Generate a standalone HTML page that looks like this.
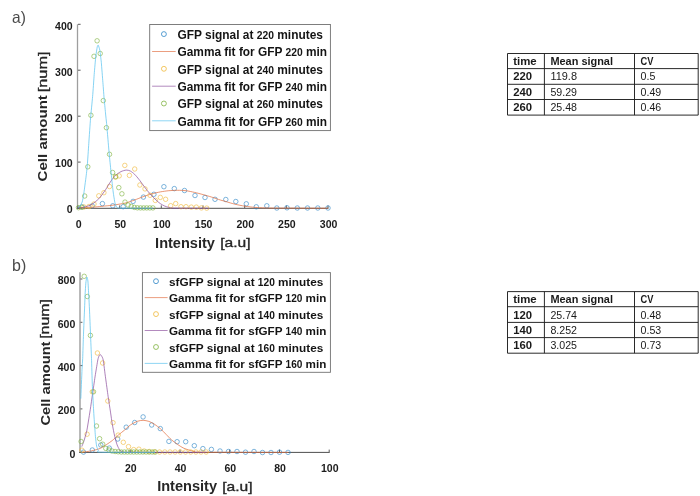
<!DOCTYPE html>
<html lang="en"><head><meta charset="utf-8"><title>Figure</title>
<style>html,body{margin:0;padding:0;background:#fff}svg{display:block}</style></head>
<body>
<svg width="700" height="496" viewBox="0 0 700 496" font-family="'Liberation Sans', Arial, sans-serif" fill="#262626">
<rect width="700" height="496" fill="#fff"/>
<text x="12" y="23.2" font-size="16.5" fill="#4a4a4a" textLength="13.8" lengthAdjust="spacingAndGlyphs">a)</text>
<text x="12.1" y="270.9" font-size="16.5" fill="#4a4a4a" textLength="14.2" lengthAdjust="spacingAndGlyphs">b)</text>
<path d="M77.5,24.3 V208.6" fill="none" stroke="#9e9e9e" stroke-width="1.3"/>
<path d="M77,208.3 H328.5" fill="none" stroke="#3a3a3a" stroke-width="0.9"/>
<path d="M78.0,208.0 h2.6" stroke="#4a4a4a" stroke-width="0.9"/>
<text x="66.8" y="213.3" font-size="11.4" font-weight="bold" fill="#1c1c1c" textLength="5.9" lengthAdjust="spacingAndGlyphs">0</text>
<path d="M78.0,162.1 h2.6" stroke="#4a4a4a" stroke-width="0.9"/>
<text x="55.1" y="167.4" font-size="11.4" font-weight="bold" fill="#1c1c1c" textLength="17.6" lengthAdjust="spacingAndGlyphs">100</text>
<path d="M78.0,116.2 h2.6" stroke="#4a4a4a" stroke-width="0.9"/>
<text x="55.1" y="121.5" font-size="11.4" font-weight="bold" fill="#1c1c1c" textLength="17.6" lengthAdjust="spacingAndGlyphs">200</text>
<path d="M78.0,70.2 h2.6" stroke="#4a4a4a" stroke-width="0.9"/>
<text x="55.1" y="75.5" font-size="11.4" font-weight="bold" fill="#1c1c1c" textLength="17.6" lengthAdjust="spacingAndGlyphs">300</text>
<path d="M78.0,24.3 h2.6" stroke="#4a4a4a" stroke-width="0.9"/>
<text x="55.1" y="29.6" font-size="11.4" font-weight="bold" fill="#1c1c1c" textLength="17.6" lengthAdjust="spacingAndGlyphs">400</text>
<path d="M78.0,208.0 v-2.6" stroke="#4a4a4a" stroke-width="0.9"/>
<text x="75.7" y="228.0" font-size="11.4" font-weight="bold" fill="#1c1c1c" textLength="5.9" lengthAdjust="spacingAndGlyphs">0</text>
<path d="M119.7,208.0 v-2.6" stroke="#4a4a4a" stroke-width="0.9"/>
<text x="114.4" y="228.0" font-size="11.4" font-weight="bold" fill="#1c1c1c" textLength="11.7" lengthAdjust="spacingAndGlyphs">50</text>
<path d="M161.3,208.0 v-2.6" stroke="#4a4a4a" stroke-width="0.9"/>
<text x="153.1" y="228.0" font-size="11.4" font-weight="bold" fill="#1c1c1c" textLength="17.6" lengthAdjust="spacingAndGlyphs">100</text>
<path d="M203.0,208.0 v-2.6" stroke="#4a4a4a" stroke-width="0.9"/>
<text x="194.8" y="228.0" font-size="11.4" font-weight="bold" fill="#1c1c1c" textLength="17.6" lengthAdjust="spacingAndGlyphs">150</text>
<path d="M244.7,208.0 v-2.6" stroke="#4a4a4a" stroke-width="0.9"/>
<text x="236.5" y="228.0" font-size="11.4" font-weight="bold" fill="#1c1c1c" textLength="17.6" lengthAdjust="spacingAndGlyphs">200</text>
<path d="M286.3,208.0 v-2.6" stroke="#4a4a4a" stroke-width="0.9"/>
<text x="278.1" y="228.0" font-size="11.4" font-weight="bold" fill="#1c1c1c" textLength="17.6" lengthAdjust="spacingAndGlyphs">250</text>
<path d="M328.0,208.0 v-2.6" stroke="#4a4a4a" stroke-width="0.9"/>
<text x="319.8" y="228.0" font-size="11.4" font-weight="bold" fill="#1c1c1c" textLength="17.6" lengthAdjust="spacingAndGlyphs">300</text>
<circle cx="82.2" cy="206.9" r="2.25" fill="none" stroke="#2f86c6" stroke-width="0.62"/><circle cx="92.2" cy="205.8" r="2.25" fill="none" stroke="#2f86c6" stroke-width="0.62"/><circle cx="102.4" cy="203.6" r="2.25" fill="none" stroke="#2f86c6" stroke-width="0.62"/><circle cx="112.8" cy="205.8" r="2.25" fill="none" stroke="#2f86c6" stroke-width="0.62"/><circle cx="123.2" cy="206.7" r="2.25" fill="none" stroke="#2f86c6" stroke-width="0.62"/><circle cx="133.1" cy="201.4" r="2.25" fill="none" stroke="#2f86c6" stroke-width="0.62"/><circle cx="143.4" cy="197.1" r="2.25" fill="none" stroke="#2f86c6" stroke-width="0.62"/><circle cx="153.9" cy="194.3" r="2.25" fill="none" stroke="#2f86c6" stroke-width="0.62"/><circle cx="163.9" cy="186.7" r="2.25" fill="none" stroke="#2f86c6" stroke-width="0.62"/><circle cx="174.3" cy="188.6" r="2.25" fill="none" stroke="#2f86c6" stroke-width="0.62"/><circle cx="184.5" cy="190.5" r="2.25" fill="none" stroke="#2f86c6" stroke-width="0.62"/><circle cx="195.0" cy="195.5" r="2.25" fill="none" stroke="#2f86c6" stroke-width="0.62"/><circle cx="205.0" cy="197.5" r="2.25" fill="none" stroke="#2f86c6" stroke-width="0.62"/><circle cx="215.0" cy="199.3" r="2.25" fill="none" stroke="#2f86c6" stroke-width="0.62"/><circle cx="225.8" cy="199.5" r="2.25" fill="none" stroke="#2f86c6" stroke-width="0.62"/><circle cx="235.8" cy="201.5" r="2.25" fill="none" stroke="#2f86c6" stroke-width="0.62"/><circle cx="246.3" cy="203.8" r="2.25" fill="none" stroke="#2f86c6" stroke-width="0.62"/><circle cx="256.3" cy="206.8" r="2.25" fill="none" stroke="#2f86c6" stroke-width="0.62"/><circle cx="266.8" cy="205.8" r="2.25" fill="none" stroke="#2f86c6" stroke-width="0.62"/><circle cx="276.8" cy="208.0" r="2.25" fill="none" stroke="#2f86c6" stroke-width="0.62"/><circle cx="287.0" cy="207.8" r="2.25" fill="none" stroke="#2f86c6" stroke-width="0.62"/><circle cx="297.3" cy="208.0" r="2.25" fill="none" stroke="#2f86c6" stroke-width="0.62"/><circle cx="307.5" cy="208.0" r="2.25" fill="none" stroke="#2f86c6" stroke-width="0.62"/><circle cx="317.8" cy="208.0" r="2.25" fill="none" stroke="#2f86c6" stroke-width="0.62"/><circle cx="328.0" cy="208.0" r="2.25" fill="none" stroke="#2f86c6" stroke-width="0.62"/>
<path d="M78.5,208.0 C80.3,207.9 88.9,207.4 92.0,207.2 C95.1,207.0 99.3,206.6 102.0,206.3 C104.7,206.0 109.8,205.6 112.1,205.3 C114.4,205.0 117.1,204.5 119.0,204.2 C120.9,203.9 123.9,203.5 126.0,202.9 C128.1,202.3 132.3,200.8 134.6,200.0 C136.9,199.2 140.8,197.5 143.1,196.7 C145.4,195.9 149.4,194.5 151.7,193.9 C154.0,193.3 158.0,192.3 160.3,191.9 C162.6,191.5 166.6,190.9 168.9,190.7 C171.2,190.5 175.1,190.3 177.4,190.3 C179.7,190.3 183.7,190.4 186.0,190.7 C188.3,191.0 192.3,191.9 194.6,192.4 C196.9,192.9 200.8,194.0 203.1,194.6 C205.4,195.2 209.4,196.4 211.7,197.1 C214.0,197.8 218.4,199.4 220.3,200.0 C222.2,200.6 224.0,201.0 226.0,201.6 C228.0,202.2 232.5,203.6 235.0,204.2 C237.5,204.8 242.3,205.8 245.0,206.2 C247.7,206.6 252.3,207.2 255.0,207.4 C257.7,207.6 261.7,207.8 265.0,207.9 C268.3,208.0 271.6,208.1 280.0,208.1 C288.4,208.1 321.6,208.2 328.0,208.2" fill="none" stroke="#e0693a" stroke-width="0.7" stroke-linejoin="round"/>
<circle cx="84.0" cy="207.0" r="2.25" fill="none" stroke="#f0b93a" stroke-width="0.62"/><circle cx="89.0" cy="206.5" r="2.25" fill="none" stroke="#f0b93a" stroke-width="0.62"/><circle cx="94.0" cy="204.0" r="2.25" fill="none" stroke="#f0b93a" stroke-width="0.62"/><circle cx="98.8" cy="195.8" r="2.25" fill="none" stroke="#f0b93a" stroke-width="0.62"/><circle cx="103.9" cy="192.7" r="2.25" fill="none" stroke="#f0b93a" stroke-width="0.62"/><circle cx="109.5" cy="186.5" r="2.25" fill="none" stroke="#f0b93a" stroke-width="0.62"/><circle cx="115.5" cy="177.2" r="2.25" fill="none" stroke="#f0b93a" stroke-width="0.62"/><circle cx="119.2" cy="175.9" r="2.25" fill="none" stroke="#f0b93a" stroke-width="0.62"/><circle cx="124.8" cy="165.4" r="2.25" fill="none" stroke="#f0b93a" stroke-width="0.62"/><circle cx="129.4" cy="175.4" r="2.25" fill="none" stroke="#f0b93a" stroke-width="0.62"/><circle cx="134.7" cy="169.0" r="2.25" fill="none" stroke="#f0b93a" stroke-width="0.62"/><circle cx="139.9" cy="185.0" r="2.25" fill="none" stroke="#f0b93a" stroke-width="0.62"/><circle cx="145.0" cy="188.9" r="2.25" fill="none" stroke="#f0b93a" stroke-width="0.62"/><circle cx="150.0" cy="195.3" r="2.25" fill="none" stroke="#f0b93a" stroke-width="0.62"/><circle cx="155.3" cy="200.4" r="2.25" fill="none" stroke="#f0b93a" stroke-width="0.62"/><circle cx="160.3" cy="197.4" r="2.25" fill="none" stroke="#f0b93a" stroke-width="0.62"/><circle cx="165.6" cy="199.3" r="2.25" fill="none" stroke="#f0b93a" stroke-width="0.62"/><circle cx="170.7" cy="205.7" r="2.25" fill="none" stroke="#f0b93a" stroke-width="0.62"/><circle cx="175.7" cy="203.6" r="2.25" fill="none" stroke="#f0b93a" stroke-width="0.62"/><circle cx="181.0" cy="206.7" r="2.25" fill="none" stroke="#f0b93a" stroke-width="0.62"/><circle cx="186.0" cy="206.7" r="2.25" fill="none" stroke="#f0b93a" stroke-width="0.62"/><circle cx="191.3" cy="207.1" r="2.25" fill="none" stroke="#f0b93a" stroke-width="0.62"/><circle cx="196.3" cy="207.1" r="2.25" fill="none" stroke="#f0b93a" stroke-width="0.62"/><circle cx="201.4" cy="207.9" r="2.25" fill="none" stroke="#f0b93a" stroke-width="0.62"/><circle cx="206.7" cy="208.1" r="2.25" fill="none" stroke="#f0b93a" stroke-width="0.62"/>
<path d="M78.0,208.0 C78.7,207.9 82.0,207.7 83.3,207.4 C84.6,207.1 86.8,206.4 88.0,206.0 C89.2,205.6 90.8,205.2 92.2,204.2 C93.6,203.2 97.0,200.6 98.8,198.7 C100.6,196.8 103.9,192.2 105.5,189.8 C107.1,187.4 109.7,182.9 111.0,181.0 C112.3,179.1 114.2,176.7 115.5,175.4 C116.8,174.1 119.6,172.3 121.0,171.6 C122.4,170.9 125.0,170.2 126.2,170.1 C127.4,170.0 129.2,170.4 130.3,171.0 C131.4,171.6 133.5,173.2 134.6,174.3 C135.7,175.4 137.8,177.9 138.9,179.3 C140.0,180.7 142.0,183.5 143.1,185.0 C144.2,186.5 146.3,189.3 147.4,190.7 C148.5,192.1 150.6,194.5 151.7,195.7 C152.8,196.9 154.9,198.9 156.0,200.0 C157.1,201.1 159.2,202.8 160.3,203.6 C161.4,204.4 163.5,205.5 164.6,206.0 C165.7,206.5 167.6,207.1 168.9,207.4 C170.2,207.7 169.3,208.0 174.6,208.1 C179.9,208.2 204.3,208.2 208.9,208.2" fill="none" stroke="#8a4a9b" stroke-width="0.7" stroke-linejoin="round"/>
<circle cx="78.5" cy="207.7" r="2.25" fill="none" stroke="#7fb23f" stroke-width="0.62"/><circle cx="81.6" cy="207.2" r="2.25" fill="none" stroke="#7fb23f" stroke-width="0.62"/><circle cx="84.7" cy="196.0" r="2.25" fill="none" stroke="#7fb23f" stroke-width="0.62"/><circle cx="87.8" cy="166.8" r="2.25" fill="none" stroke="#7fb23f" stroke-width="0.62"/><circle cx="90.9" cy="115.3" r="2.25" fill="none" stroke="#7fb23f" stroke-width="0.62"/><circle cx="94.0" cy="56.3" r="2.25" fill="none" stroke="#7fb23f" stroke-width="0.62"/><circle cx="97.1" cy="40.8" r="2.25" fill="none" stroke="#7fb23f" stroke-width="0.62"/><circle cx="100.2" cy="53.5" r="2.25" fill="none" stroke="#7fb23f" stroke-width="0.62"/><circle cx="103.3" cy="100.6" r="2.25" fill="none" stroke="#7fb23f" stroke-width="0.62"/><circle cx="106.4" cy="127.7" r="2.25" fill="none" stroke="#7fb23f" stroke-width="0.62"/><circle cx="109.5" cy="154.3" r="2.25" fill="none" stroke="#7fb23f" stroke-width="0.62"/><circle cx="112.6" cy="172.5" r="2.25" fill="none" stroke="#7fb23f" stroke-width="0.62"/><circle cx="115.7" cy="176.5" r="2.25" fill="none" stroke="#7fb23f" stroke-width="0.62"/><circle cx="118.8" cy="187.6" r="2.25" fill="none" stroke="#7fb23f" stroke-width="0.62"/><circle cx="121.9" cy="193.8" r="2.25" fill="none" stroke="#7fb23f" stroke-width="0.62"/><circle cx="125.0" cy="202.1" r="2.25" fill="none" stroke="#7fb23f" stroke-width="0.62"/><circle cx="128.1" cy="205.0" r="2.25" fill="none" stroke="#7fb23f" stroke-width="0.62"/><circle cx="131.2" cy="206.4" r="2.25" fill="none" stroke="#7fb23f" stroke-width="0.62"/><circle cx="134.3" cy="207.4" r="2.25" fill="none" stroke="#7fb23f" stroke-width="0.62"/><circle cx="137.4" cy="207.8" r="2.25" fill="none" stroke="#7fb23f" stroke-width="0.62"/><circle cx="140.5" cy="207.9" r="2.25" fill="none" stroke="#7fb23f" stroke-width="0.62"/><circle cx="143.6" cy="207.9" r="2.25" fill="none" stroke="#7fb23f" stroke-width="0.62"/><circle cx="146.7" cy="207.9" r="2.25" fill="none" stroke="#7fb23f" stroke-width="0.62"/><circle cx="149.8" cy="207.9" r="2.25" fill="none" stroke="#7fb23f" stroke-width="0.62"/><circle cx="152.9" cy="207.9" r="2.25" fill="none" stroke="#7fb23f" stroke-width="0.62"/>
<path d="M77.8,208.0 C78.0,207.9 79.1,207.2 79.5,206.6 C79.9,206.0 81.8,203.2 82.2,202.0 C82.6,200.8 83.4,196.4 83.7,194.3 C84.0,192.2 85.1,183.9 85.5,181.0 C85.9,178.1 87.0,169.2 87.3,165.4 C87.6,161.6 88.5,148.0 88.8,143.3 C89.1,138.6 90.2,122.7 90.6,118.0 C91.0,113.3 92.2,101.0 92.6,96.6 C93.0,92.2 93.9,78.4 94.2,74.4 C94.5,70.4 95.5,59.0 95.8,56.3 C96.1,53.6 97.0,48.3 97.2,47.2 C97.4,46.1 97.9,44.9 98.2,45.2 C98.5,45.5 99.5,48.5 99.8,50.2 C100.1,51.9 101.0,59.1 101.3,62.3 C101.6,65.5 102.6,78.7 102.9,82.5 C103.2,86.3 104.0,97.4 104.3,100.6 C104.6,103.8 105.4,111.7 105.6,114.0 C105.8,116.3 106.3,120.6 106.6,123.3 C106.8,126.0 107.8,137.2 108.1,141.0 C108.4,144.8 109.5,157.2 109.9,161.0 C110.3,164.8 111.4,175.6 111.7,178.7 C112.0,181.8 112.9,189.6 113.2,192.0 C113.5,194.4 114.6,201.5 115.0,203.0 C115.4,204.5 116.5,206.9 117.0,207.4 C117.5,207.9 116.4,208.0 120.0,208.1 C123.6,208.2 149.7,208.2 153.0,208.2" fill="none" stroke="#52c0ee" stroke-width="0.7" stroke-linejoin="round"/>
<text x="155.1" y="247.5" font-size="14" font-weight="bold" textLength="59.8" lengthAdjust="spacingAndGlyphs">Intensity</text>
<text x="220.2" y="247.3" font-size="12.8" font-weight="normal" stroke="#262626" stroke-width="0.35" textLength="30.3" lengthAdjust="spacingAndGlyphs">[a.u]</text>
<text transform="translate(47.0,181.5) rotate(-90)" font-size="13.6" font-weight="bold" textLength="86.4" lengthAdjust="spacingAndGlyphs">Cell amount</text>
<text transform="translate(46.8,92.3) rotate(-90)" font-size="12.8" font-weight="normal" stroke="#262626" stroke-width="0.35" textLength="40.9" lengthAdjust="spacingAndGlyphs">[num]</text>
<rect x="149.7" y="24.5" width="180.7" height="106.1" fill="#fff" stroke="#707070" stroke-width="0.9"/>
<circle cx="163.9" cy="34.1" r="2.45" fill="none" stroke="#2f86c6" stroke-width="0.8"/>
<text x="177.5" y="38.8" font-weight="bold" fill="#141414" font-size="12" textLength="145.4" lengthAdjust="spacingAndGlyphs">GFP signal at <tspan font-size="10.4">220</tspan> minutes</text>
<path d="M152.1,51.5 H175.7" stroke="#e0693a" stroke-width="0.65"/>
<text x="177.5" y="56.1" font-weight="bold" fill="#141414" font-size="12" textLength="149.6" lengthAdjust="spacingAndGlyphs">Gamma fit for GFP <tspan font-size="10.4">220</tspan> min</text>
<circle cx="163.9" cy="68.8" r="2.45" fill="none" stroke="#f0b93a" stroke-width="0.8"/>
<text x="177.5" y="73.5" font-weight="bold" fill="#141414" font-size="12" textLength="145.4" lengthAdjust="spacingAndGlyphs">GFP signal at <tspan font-size="10.4">240</tspan> minutes</text>
<path d="M152.1,86.2 H175.7" stroke="#8a4a9b" stroke-width="0.65"/>
<text x="177.5" y="90.8" font-weight="bold" fill="#141414" font-size="12" textLength="149.6" lengthAdjust="spacingAndGlyphs">Gamma fit for GFP <tspan font-size="10.4">240</tspan> min</text>
<circle cx="163.9" cy="103.5" r="2.45" fill="none" stroke="#7fb23f" stroke-width="0.8"/>
<text x="177.5" y="108.2" font-weight="bold" fill="#141414" font-size="12" textLength="145.4" lengthAdjust="spacingAndGlyphs">GFP signal at <tspan font-size="10.4">260</tspan> minutes</text>
<path d="M152.1,120.8 H175.7" stroke="#52c0ee" stroke-width="0.65"/>
<text x="177.5" y="125.5" font-weight="bold" fill="#141414" font-size="12" textLength="149.6" lengthAdjust="spacingAndGlyphs">Gamma fit for GFP <tspan font-size="10.4">260</tspan> min</text>
<path d="M80,272.2 V452.8" fill="none" stroke="#b2b2b2" stroke-width="1.8"/>
<path d="M79.2,452.4 H329.7" fill="none" stroke="#3a3a3a" stroke-width="0.9"/>
<path d="M80.5,452.2 h1.9" stroke="#4a4a4a" stroke-width="0.9"/>
<text x="69.4" y="457.5" font-size="11.4" font-weight="bold" fill="#1c1c1c" textLength="5.9" lengthAdjust="spacingAndGlyphs">0</text>
<path d="M80.5,408.9 h1.9" stroke="#4a4a4a" stroke-width="0.9"/>
<text x="57.7" y="414.2" font-size="11.4" font-weight="bold" fill="#1c1c1c" textLength="17.6" lengthAdjust="spacingAndGlyphs">200</text>
<path d="M80.5,365.6 h1.9" stroke="#4a4a4a" stroke-width="0.9"/>
<text x="57.7" y="370.9" font-size="11.4" font-weight="bold" fill="#1c1c1c" textLength="17.6" lengthAdjust="spacingAndGlyphs">400</text>
<path d="M80.5,322.3 h1.9" stroke="#4a4a4a" stroke-width="0.9"/>
<text x="57.7" y="327.6" font-size="11.4" font-weight="bold" fill="#1c1c1c" textLength="17.6" lengthAdjust="spacingAndGlyphs">600</text>
<path d="M80.5,279.0 h1.9" stroke="#4a4a4a" stroke-width="0.9"/>
<text x="57.7" y="284.3" font-size="11.4" font-weight="bold" fill="#1c1c1c" textLength="17.6" lengthAdjust="spacingAndGlyphs">800</text>
<path d="M130.2,452.2 v-2.6" stroke="#4a4a4a" stroke-width="0.9"/>
<text x="125.0" y="472.2" font-size="11.4" font-weight="bold" fill="#1c1c1c" textLength="11.7" lengthAdjust="spacingAndGlyphs">20</text>
<path d="M180.0,452.2 v-2.6" stroke="#4a4a4a" stroke-width="0.9"/>
<text x="174.7" y="472.2" font-size="11.4" font-weight="bold" fill="#1c1c1c" textLength="11.7" lengthAdjust="spacingAndGlyphs">40</text>
<path d="M229.7,452.2 v-2.6" stroke="#4a4a4a" stroke-width="0.9"/>
<text x="224.4" y="472.2" font-size="11.4" font-weight="bold" fill="#1c1c1c" textLength="11.7" lengthAdjust="spacingAndGlyphs">60</text>
<path d="M279.5,452.2 v-2.6" stroke="#4a4a4a" stroke-width="0.9"/>
<text x="274.2" y="472.2" font-size="11.4" font-weight="bold" fill="#1c1c1c" textLength="11.7" lengthAdjust="spacingAndGlyphs">80</text>
<path d="M329.2,452.2 v-2.6" stroke="#4a4a4a" stroke-width="0.9"/>
<text x="321.0" y="472.2" font-size="11.4" font-weight="bold" fill="#1c1c1c" textLength="17.6" lengthAdjust="spacingAndGlyphs">100</text>
<circle cx="83.5" cy="452.1" r="2.25" fill="none" stroke="#2f86c6" stroke-width="0.62"/><circle cx="92.3" cy="450.0" r="2.25" fill="none" stroke="#2f86c6" stroke-width="0.62"/><circle cx="100.8" cy="445.0" r="2.25" fill="none" stroke="#2f86c6" stroke-width="0.62"/><circle cx="109.3" cy="448.1" r="2.25" fill="none" stroke="#2f86c6" stroke-width="0.62"/><circle cx="117.7" cy="439.0" r="2.25" fill="none" stroke="#2f86c6" stroke-width="0.62"/><circle cx="126.2" cy="427.2" r="2.25" fill="none" stroke="#2f86c6" stroke-width="0.62"/><circle cx="134.7" cy="422.5" r="2.25" fill="none" stroke="#2f86c6" stroke-width="0.62"/><circle cx="143.1" cy="416.9" r="2.25" fill="none" stroke="#2f86c6" stroke-width="0.62"/><circle cx="151.7" cy="425.0" r="2.25" fill="none" stroke="#2f86c6" stroke-width="0.62"/><circle cx="160.3" cy="428.6" r="2.25" fill="none" stroke="#2f86c6" stroke-width="0.62"/><circle cx="168.9" cy="441.4" r="2.25" fill="none" stroke="#2f86c6" stroke-width="0.62"/><circle cx="177.1" cy="441.7" r="2.25" fill="none" stroke="#2f86c6" stroke-width="0.62"/><circle cx="185.7" cy="441.7" r="2.25" fill="none" stroke="#2f86c6" stroke-width="0.62"/><circle cx="194.3" cy="445.7" r="2.25" fill="none" stroke="#2f86c6" stroke-width="0.62"/><circle cx="202.9" cy="448.6" r="2.25" fill="none" stroke="#2f86c6" stroke-width="0.62"/><circle cx="211.4" cy="449.4" r="2.25" fill="none" stroke="#2f86c6" stroke-width="0.62"/><circle cx="220.0" cy="451.0" r="2.25" fill="none" stroke="#2f86c6" stroke-width="0.62"/><circle cx="228.5" cy="451.5" r="2.25" fill="none" stroke="#2f86c6" stroke-width="0.62"/><circle cx="237.0" cy="451.5" r="2.25" fill="none" stroke="#2f86c6" stroke-width="0.62"/><circle cx="245.5" cy="452.2" r="2.25" fill="none" stroke="#2f86c6" stroke-width="0.62"/><circle cx="254.0" cy="451.5" r="2.25" fill="none" stroke="#2f86c6" stroke-width="0.62"/><circle cx="262.5" cy="452.5" r="2.25" fill="none" stroke="#2f86c6" stroke-width="0.62"/><circle cx="271.0" cy="452.5" r="2.25" fill="none" stroke="#2f86c6" stroke-width="0.62"/><circle cx="279.5" cy="452.2" r="2.25" fill="none" stroke="#2f86c6" stroke-width="0.62"/><circle cx="288.0" cy="452.4" r="2.25" fill="none" stroke="#2f86c6" stroke-width="0.62"/>
<path d="M82.0,452.3 C83.3,452.1 89.3,451.3 91.7,450.8 C94.1,450.3 98.3,449.2 100.2,448.4 C102.1,447.6 104.6,445.9 106.2,444.8 C107.8,443.7 110.7,441.8 112.3,440.5 C113.9,439.2 116.7,436.5 118.3,435.1 C119.9,433.7 122.8,431.5 124.4,430.2 C126.0,428.9 128.7,426.2 130.4,425.0 C132.1,423.8 135.7,421.9 137.4,421.3 C139.1,420.7 141.6,420.3 143.1,420.3 C144.6,420.3 147.4,420.9 148.9,421.4 C150.4,421.9 153.1,423.3 154.6,424.3 C156.1,425.3 158.8,427.3 160.3,428.6 C161.8,429.9 164.5,432.8 166.0,434.3 C167.5,435.8 170.2,438.7 171.7,440.0 C173.2,441.3 175.9,443.2 177.4,444.3 C178.9,445.4 181.6,447.1 183.1,447.9 C184.6,448.7 187.4,449.5 188.9,450.0 C190.4,450.5 193.1,451.1 194.6,451.4 C196.1,451.7 187.8,452.1 200.3,452.2 C212.8,452.3 276.3,452.4 288.0,452.4" fill="none" stroke="#e0693a" stroke-width="0.7" stroke-linejoin="round"/>
<circle cx="81.9" cy="450.2" r="2.25" fill="none" stroke="#f0b93a" stroke-width="0.62"/><circle cx="87.1" cy="434.2" r="2.25" fill="none" stroke="#f0b93a" stroke-width="0.62"/><circle cx="92.3" cy="391.8" r="2.25" fill="none" stroke="#f0b93a" stroke-width="0.62"/><circle cx="97.4" cy="353.0" r="2.25" fill="none" stroke="#f0b93a" stroke-width="0.62"/><circle cx="102.6" cy="363.0" r="2.25" fill="none" stroke="#f0b93a" stroke-width="0.62"/><circle cx="107.8" cy="401.0" r="2.25" fill="none" stroke="#f0b93a" stroke-width="0.62"/><circle cx="113.0" cy="422.7" r="2.25" fill="none" stroke="#f0b93a" stroke-width="0.62"/><circle cx="118.2" cy="435.1" r="2.25" fill="none" stroke="#f0b93a" stroke-width="0.62"/><circle cx="123.3" cy="442.3" r="2.25" fill="none" stroke="#f0b93a" stroke-width="0.62"/><circle cx="128.5" cy="446.6" r="2.25" fill="none" stroke="#f0b93a" stroke-width="0.62"/><circle cx="133.7" cy="449.6" r="2.25" fill="none" stroke="#f0b93a" stroke-width="0.62"/><circle cx="138.9" cy="449.2" r="2.25" fill="none" stroke="#f0b93a" stroke-width="0.62"/><circle cx="144.1" cy="451.0" r="2.25" fill="none" stroke="#f0b93a" stroke-width="0.62"/><circle cx="149.2" cy="451.5" r="2.25" fill="none" stroke="#f0b93a" stroke-width="0.62"/><circle cx="154.4" cy="451.8" r="2.25" fill="none" stroke="#f0b93a" stroke-width="0.62"/><circle cx="159.6" cy="452.0" r="2.25" fill="none" stroke="#f0b93a" stroke-width="0.62"/><circle cx="164.8" cy="452.0" r="2.25" fill="none" stroke="#f0b93a" stroke-width="0.62"/><circle cx="170.0" cy="452.0" r="2.25" fill="none" stroke="#f0b93a" stroke-width="0.62"/><circle cx="175.1" cy="452.0" r="2.25" fill="none" stroke="#f0b93a" stroke-width="0.62"/><circle cx="180.3" cy="452.0" r="2.25" fill="none" stroke="#f0b93a" stroke-width="0.62"/><circle cx="185.5" cy="452.0" r="2.25" fill="none" stroke="#f0b93a" stroke-width="0.62"/><circle cx="190.7" cy="452.0" r="2.25" fill="none" stroke="#f0b93a" stroke-width="0.62"/><circle cx="195.9" cy="452.0" r="2.25" fill="none" stroke="#f0b93a" stroke-width="0.62"/><circle cx="201.0" cy="452.0" r="2.25" fill="none" stroke="#f0b93a" stroke-width="0.62"/><circle cx="206.2" cy="452.0" r="2.25" fill="none" stroke="#f0b93a" stroke-width="0.62"/>
<path d="M81.8,446.6 C82.0,446.0 83.3,443.0 83.9,441.1 C84.5,439.2 86.3,433.2 86.9,430.2 C87.5,427.2 88.8,418.8 89.3,415.7 C89.8,412.6 90.7,406.8 91.1,404.0 C91.5,401.2 92.4,394.9 92.9,391.5 C93.4,388.1 94.8,378.2 95.4,374.5 C96.0,370.8 97.4,362.2 97.8,360.0 C98.2,357.8 98.9,356.2 99.2,355.6 C99.5,355.0 99.9,354.5 100.2,354.5 C100.5,354.5 101.1,355.2 101.4,355.8 C101.8,356.4 102.7,357.4 103.2,360.0 C103.7,362.6 105.0,373.9 105.6,378.1 C106.2,382.3 107.5,392.3 108.1,396.3 C108.7,400.3 110.0,408.8 110.5,412.1 C111.0,415.4 111.8,421.4 112.3,424.2 C112.8,427.0 114.1,433.9 114.7,436.3 C115.3,438.7 116.5,443.2 117.1,444.8 C117.7,446.4 118.9,448.8 119.5,449.6 C120.1,450.4 121.7,451.6 122.6,451.9 C123.5,452.2 117.3,452.2 127.0,452.3 C136.7,452.4 196.8,452.4 206.0,452.4" fill="none" stroke="#8a4a9b" stroke-width="0.7" stroke-linejoin="round"/>
<circle cx="81.1" cy="441.5" r="2.25" fill="none" stroke="#7fb23f" stroke-width="0.62"/><circle cx="84.2" cy="276.3" r="2.25" fill="none" stroke="#7fb23f" stroke-width="0.62"/><circle cx="87.3" cy="296.5" r="2.25" fill="none" stroke="#7fb23f" stroke-width="0.62"/><circle cx="90.4" cy="335.4" r="2.25" fill="none" stroke="#7fb23f" stroke-width="0.62"/><circle cx="93.5" cy="391.8" r="2.25" fill="none" stroke="#7fb23f" stroke-width="0.62"/><circle cx="96.5" cy="426.0" r="2.25" fill="none" stroke="#7fb23f" stroke-width="0.62"/><circle cx="99.6" cy="438.7" r="2.25" fill="none" stroke="#7fb23f" stroke-width="0.62"/><circle cx="102.7" cy="444.2" r="2.25" fill="none" stroke="#7fb23f" stroke-width="0.62"/><circle cx="105.8" cy="448.4" r="2.25" fill="none" stroke="#7fb23f" stroke-width="0.62"/><circle cx="108.9" cy="450.0" r="2.25" fill="none" stroke="#7fb23f" stroke-width="0.62"/><circle cx="112.0" cy="451.0" r="2.25" fill="none" stroke="#7fb23f" stroke-width="0.62"/><circle cx="115.1" cy="451.5" r="2.25" fill="none" stroke="#7fb23f" stroke-width="0.62"/><circle cx="118.2" cy="451.8" r="2.25" fill="none" stroke="#7fb23f" stroke-width="0.62"/><circle cx="121.3" cy="452.0" r="2.25" fill="none" stroke="#7fb23f" stroke-width="0.62"/><circle cx="124.4" cy="452.0" r="2.25" fill="none" stroke="#7fb23f" stroke-width="0.62"/><circle cx="127.4" cy="452.0" r="2.25" fill="none" stroke="#7fb23f" stroke-width="0.62"/><circle cx="130.5" cy="452.0" r="2.25" fill="none" stroke="#7fb23f" stroke-width="0.62"/><circle cx="133.6" cy="452.0" r="2.25" fill="none" stroke="#7fb23f" stroke-width="0.62"/><circle cx="136.7" cy="452.0" r="2.25" fill="none" stroke="#7fb23f" stroke-width="0.62"/><circle cx="139.8" cy="452.0" r="2.25" fill="none" stroke="#7fb23f" stroke-width="0.62"/><circle cx="142.9" cy="452.0" r="2.25" fill="none" stroke="#7fb23f" stroke-width="0.62"/><circle cx="146.0" cy="452.0" r="2.25" fill="none" stroke="#7fb23f" stroke-width="0.62"/><circle cx="149.1" cy="452.0" r="2.25" fill="none" stroke="#7fb23f" stroke-width="0.62"/><circle cx="152.2" cy="452.0" r="2.25" fill="none" stroke="#7fb23f" stroke-width="0.62"/><circle cx="155.3" cy="452.0" r="2.25" fill="none" stroke="#7fb23f" stroke-width="0.62"/>
<path d="M80.8,398.7 C80.9,395.8 81.9,373.3 82.0,369.3 C82.2,365.3 82.5,361.9 82.7,358.4 C82.8,354.9 83.3,339.0 83.5,334.2 C83.7,329.4 84.3,314.3 84.5,310.0 C84.7,305.7 85.1,293.9 85.3,291.0 C85.5,288.1 85.8,282.9 86.0,281.5 C86.2,280.1 86.7,277.2 86.9,277.1 C87.1,277.1 87.7,279.1 87.9,281.0 C88.1,282.9 88.6,293.3 88.8,296.2 C89.0,299.1 89.3,306.2 89.5,310.0 C89.7,313.8 90.3,329.4 90.5,334.2 C90.7,339.0 91.3,353.4 91.5,358.4 C91.7,363.4 92.1,379.2 92.3,384.2 C92.5,389.2 93.3,405.0 93.5,408.4 C93.7,411.8 93.9,415.3 94.1,418.1 C94.3,420.9 95.2,433.5 95.4,436.3 C95.7,439.1 96.3,444.6 96.6,446.0 C96.9,447.4 98.0,450.2 98.4,450.8 C98.8,451.4 94.5,452.0 100.2,452.2 C105.9,452.4 149.5,452.4 155.0,452.4" fill="none" stroke="#52c0ee" stroke-width="0.7" stroke-linejoin="round"/>
<text x="157.2" y="491.4" font-size="14" font-weight="bold" textLength="59.8" lengthAdjust="spacingAndGlyphs">Intensity</text>
<text x="222.3" y="491.2" font-size="12.8" font-weight="normal" stroke="#262626" stroke-width="0.35" textLength="30.3" lengthAdjust="spacingAndGlyphs">[a.u]</text>
<text transform="translate(49.5,425.5) rotate(-90)" font-size="13.4" font-weight="bold" textLength="84" lengthAdjust="spacingAndGlyphs">Cell amount</text>
<text transform="translate(49.3,338.8) rotate(-90)" font-size="12.6" font-weight="normal" stroke="#262626" stroke-width="0.35" textLength="39.8" lengthAdjust="spacingAndGlyphs">[num]</text>
<rect x="142.4" y="272.6" width="187.99999999999997" height="99.69999999999999" fill="#fff" stroke="#707070" stroke-width="0.9"/>
<circle cx="156.0" cy="281.2" r="2.45" fill="none" stroke="#2f86c6" stroke-width="0.8"/>
<text x="169.0" y="285.8" font-weight="bold" fill="#141414" font-size="11.8" textLength="154.3" lengthAdjust="spacingAndGlyphs">sfGFP signal at <tspan font-size="10.2">120</tspan> minutes</text>
<path d="M144.7,297.6 H167.6" stroke="#e0693a" stroke-width="0.65"/>
<text x="169.0" y="302.3" font-weight="bold" fill="#141414" font-size="11.8" textLength="157.4" lengthAdjust="spacingAndGlyphs">Gamma fit for sfGFP <tspan font-size="10.2">120</tspan> min</text>
<circle cx="156.0" cy="314.1" r="2.45" fill="none" stroke="#f0b93a" stroke-width="0.8"/>
<text x="169.0" y="318.7" font-weight="bold" fill="#141414" font-size="11.8" textLength="154.3" lengthAdjust="spacingAndGlyphs">sfGFP signal at <tspan font-size="10.2">140</tspan> minutes</text>
<path d="M144.7,330.5 H167.6" stroke="#8a4a9b" stroke-width="0.65"/>
<text x="169.0" y="335.2" font-weight="bold" fill="#141414" font-size="11.8" textLength="157.4" lengthAdjust="spacingAndGlyphs">Gamma fit for sfGFP <tspan font-size="10.2">140</tspan> min</text>
<circle cx="156.0" cy="347.0" r="2.45" fill="none" stroke="#7fb23f" stroke-width="0.8"/>
<text x="169.0" y="351.6" font-weight="bold" fill="#141414" font-size="11.8" textLength="154.3" lengthAdjust="spacingAndGlyphs">sfGFP signal at <tspan font-size="10.2">160</tspan> minutes</text>
<path d="M144.7,363.4 H167.6" stroke="#52c0ee" stroke-width="0.65"/>
<text x="169.0" y="368.1" font-weight="bold" fill="#141414" font-size="11.8" textLength="157.4" lengthAdjust="spacingAndGlyphs">Gamma fit for sfGFP <tspan font-size="10.2">160</tspan> min</text>
<path d="M507.5,53.5 H698.2 V115.1 H507.5 Z M507.5,68.6 H698.2 M507.5,84.3 H698.2 M507.5,99.5 H698.2 M544.4,53.5 V115.1 M634.5,53.5 V115.1 " fill="none" stroke="#1f1f1f" stroke-width="0.95"/>
<text x="513.2" y="65.3" fill="#1a1a1a" textLength="23.5" lengthAdjust="spacingAndGlyphs" font-size="11" font-weight="bold">time</text>
<text x="550.4" y="65.3" fill="#1a1a1a" textLength="62.6" lengthAdjust="spacingAndGlyphs" font-size="11" font-weight="bold">Mean signal</text>
<text x="640.6" y="65.3" fill="#1a1a1a" textLength="12.9" lengthAdjust="spacingAndGlyphs" font-size="11" font-weight="bold">CV</text>
<text x="513.2" y="80.4" fill="#1a1a1a" textLength="18.9" lengthAdjust="spacingAndGlyphs" font-size="11" font-weight="bold">220</text>
<text x="550.4" y="80.4" fill="#1a1a1a" textLength="26.6" lengthAdjust="spacingAndGlyphs" font-size="11">119.8</text>
<text x="640.6" y="80.4" fill="#1a1a1a" textLength="14.8" lengthAdjust="spacingAndGlyphs" font-size="11">0.5</text>
<text x="513.2" y="96.1" fill="#1a1a1a" textLength="18.9" lengthAdjust="spacingAndGlyphs" font-size="11" font-weight="bold">240</text>
<text x="550.4" y="96.1" fill="#1a1a1a" textLength="26.6" lengthAdjust="spacingAndGlyphs" font-size="11">59.29</text>
<text x="640.6" y="96.1" fill="#1a1a1a" textLength="20.7" lengthAdjust="spacingAndGlyphs" font-size="11">0.49</text>
<text x="513.2" y="111.3" fill="#1a1a1a" textLength="18.9" lengthAdjust="spacingAndGlyphs" font-size="11" font-weight="bold">260</text>
<text x="550.4" y="111.3" fill="#1a1a1a" textLength="26.6" lengthAdjust="spacingAndGlyphs" font-size="11">25.48</text>
<text x="640.6" y="111.3" fill="#1a1a1a" textLength="20.7" lengthAdjust="spacingAndGlyphs" font-size="11">0.46</text>
<path d="M507.5,291.6 H698.2 V353.20000000000005 H507.5 Z M507.5,306.7 H698.2 M507.5,322.4 H698.2 M507.5,337.6 H698.2 M544.4,291.6 V353.20000000000005 M634.5,291.6 V353.20000000000005 " fill="none" stroke="#1f1f1f" stroke-width="0.95"/>
<text x="513.2" y="303.4" fill="#1a1a1a" textLength="23.5" lengthAdjust="spacingAndGlyphs" font-size="11" font-weight="bold">time</text>
<text x="550.4" y="303.4" fill="#1a1a1a" textLength="62.6" lengthAdjust="spacingAndGlyphs" font-size="11" font-weight="bold">Mean signal</text>
<text x="640.6" y="303.4" fill="#1a1a1a" textLength="12.9" lengthAdjust="spacingAndGlyphs" font-size="11" font-weight="bold">CV</text>
<text x="513.2" y="318.5" fill="#1a1a1a" textLength="18.9" lengthAdjust="spacingAndGlyphs" font-size="11" font-weight="bold">120</text>
<text x="550.4" y="318.5" fill="#1a1a1a" textLength="26.6" lengthAdjust="spacingAndGlyphs" font-size="11">25.74</text>
<text x="640.6" y="318.5" fill="#1a1a1a" textLength="20.7" lengthAdjust="spacingAndGlyphs" font-size="11">0.48</text>
<text x="513.2" y="334.2" fill="#1a1a1a" textLength="18.9" lengthAdjust="spacingAndGlyphs" font-size="11" font-weight="bold">140</text>
<text x="550.4" y="334.2" fill="#1a1a1a" textLength="26.6" lengthAdjust="spacingAndGlyphs" font-size="11">8.252</text>
<text x="640.6" y="334.2" fill="#1a1a1a" textLength="20.7" lengthAdjust="spacingAndGlyphs" font-size="11">0.53</text>
<text x="513.2" y="349.4" fill="#1a1a1a" textLength="18.9" lengthAdjust="spacingAndGlyphs" font-size="11" font-weight="bold">160</text>
<text x="550.4" y="349.4" fill="#1a1a1a" textLength="26.6" lengthAdjust="spacingAndGlyphs" font-size="11">3.025</text>
<text x="640.6" y="349.4" fill="#1a1a1a" textLength="20.7" lengthAdjust="spacingAndGlyphs" font-size="11">0.73</text>
</svg>
</body></html>
